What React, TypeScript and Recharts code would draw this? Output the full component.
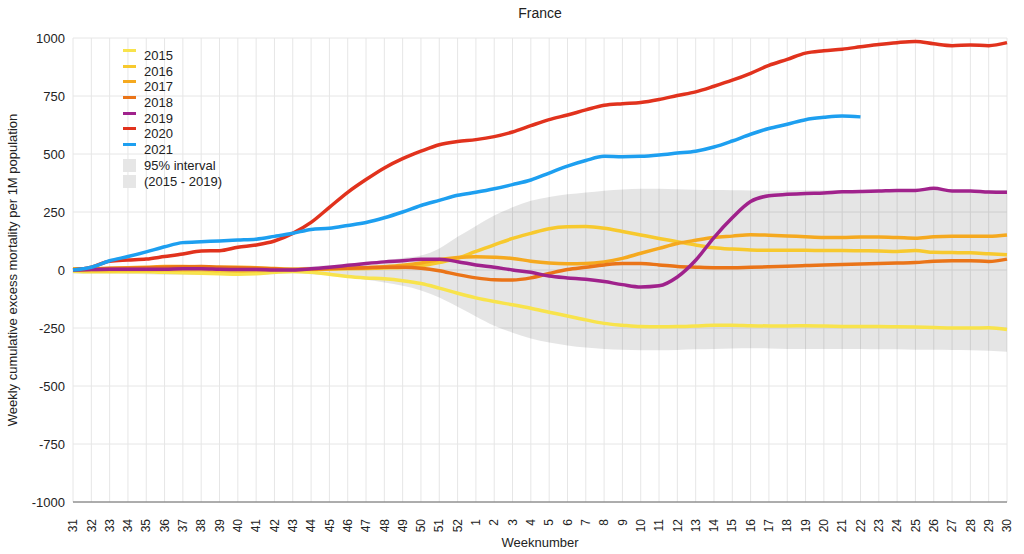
import {
  Area,
  CartesianGrid,
  ComposedChart,
  Legend,
  Line,
  XAxis,
  YAxis,
} from 'recharts';

const weeks = [
  '31', '32', '33', '34', '35', '36', '37', '38', '39', '40', '41', '42', '43', '44', '45', '46',
  '47', '48', '49', '50', '51', '52', '1', '2', '3', '4', '5', '6', '7', '8', '9', '10', '11', '12',
  '13', '14', '15', '16', '17', '18', '19', '20', '21', '22', '23', '24', '25', '26', '27', '28', '29', '30',
];

const y2015 = [
  -5, -8, -8, -8, -8, -10, -12, -14, -16, -18, -16, -10, -6, -10, -18, -28, -34, -38, -46, -58, -78, -100,
  -120, -136, -150, -165, -182, -198, -215, -230, -238, -244, -245, -244, -241, -238, -238, -240, -241, -241,
  -240, -241, -243, -244, -244, -245, -246, -248, -250, -250, -249, -256,
];
const y2016 = [
  0, -3, -3, -2, -2, 0, 0, 0, -3, -5, -3, -2, 0, 2, 3, 5, 7, 9, 11, 18, 32, 50,
  80, 108, 136, 158, 178, 186, 187, 180, 166, 151, 136, 122, 108, 96, 90, 86, 85, 85,
  85, 84, 84, 83, 82, 80, 84, 76, 75, 74, 70, 66,
];
const y2017 = [
  5, 5, 8, 10, 12, 15, 15, 14, 12, 12, 10, 6, 3, 3, 5, 8, 10, 14, 20, 30, 45, 54,
  57, 55, 50, 38, 30, 27, 28, 35, 50, 72, 93, 114, 128, 140, 146, 152, 150, 147,
  143, 140, 140, 142, 142, 140, 137, 143, 145, 145, 145, 151,
];
const y2018 = [
  0, 3, 6, 8, 10, 12, 14, 15, 12, 10, 8, 5, 2, 4, 6, 8, 10, 12, 12, 8, -3, -20,
  -34, -42, -43, -34, -15, 2, 12, 22, 28, 28, 22, 15, 12, 10, 10, 12, 14, 16,
  19, 22, 24, 26, 28, 30, 32, 38, 40, 40, 37, 47,
];
const y2019 = [
  0, 2, 3, 3, 3, 3, 5, 5, 3, 2, 2, 0, 0, 5, 12, 20, 28, 35, 40, 46, 46, 36,
  22, 12, 0, -10, -26, -34, -40, -50, -63, -73, -68, -30, 42, 140, 225, 295, 320, 326,
  330, 332, 337, 338, 340, 343, 343, 352, 341, 341, 336, 335,
];
const y2020 = [
  0, 12, 38, 43, 47, 58, 69, 82, 83, 98, 108, 125, 158, 205, 270, 335, 390, 440, 480, 512, 540, 554,
  562, 575, 595, 622, 648, 668, 690, 710, 717, 722, 735, 752, 768, 792, 818, 848, 882, 908,
  935, 945, 952, 962, 972, 980, 985, 975, 967, 970, 967, 980,
];
const y2021 = [
  0, 12, 40, 58, 78, 100, 118, 122, 125, 129, 133, 145, 158, 175, 180, 192, 205, 225, 250, 278, 300, 322,
  335, 350, 368, 388, 418, 448, 472, 490, 488, 490, 496, 504, 512, 530, 556, 585, 610, 628,
  648, 658, 664, 660, null, null, null, null, null, null, null, null,
];
const bandHigh = [
  12, 14, 15, 16, 18, 20, 20, 20, 18, 18, 16, 14, 12, 15, 20, 26, 34, 42, 52, 62, 93, 143,
  190, 235, 270, 298, 315, 326, 334, 342, 347, 350, 350, 348, 346, 345, 344, 343, 342, 343,
  344, 344, 345, 345, 346, 346, 346, 346, 345, 345, 345, 345,
];
const bandLow = [
  -15, -16, -16, -17, -18, -20, -21, -22, -22, -22, -21, -18, -14, -18, -24, -32, -42, -54, -68, -88, -118, -158,
  -200, -240, -270, -295, -312, -325, -334, -340, -344, -346, -346, -345, -342, -340, -338, -337, -338, -340,
  -340, -340, -340, -340, -342, -342, -344, -344, -345, -346, -348, -352,
];

const yTicks = [-1000, -750, -500, -250, 0, 250, 500, 750, 1000];

const series = [
  { key: 'y2015', name: '2015', color: '#f8e34c' },
  { key: 'y2016', name: '2016', color: '#f7c92e' },
  { key: 'y2017', name: '2017', color: '#f5a91f' },
  { key: 'y2018', name: '2018', color: '#ea7418' },
  { key: 'y2019', name: '2019', color: '#a0228c' },
  { key: 'y2020', name: '2020', color: '#e1321d' },
  { key: 'y2021', name: '2021', color: '#1d9ff0' },
];

const bandLabels = ['95% interval', '(2015 - 2019)'];

const data = weeks.map((week, i) => ({
  week,
  y2015: y2015[i],
  y2016: y2016[i],
  y2017: y2017[i],
  y2018: y2018[i],
  y2019: y2019[i],
  y2020: y2020[i],
  y2021: y2021[i],
  band: [bandLow[i], bandHigh[i]],
}));

const font = '"Liberation Sans", Arial, Helvetica, sans-serif';

function WeekTick(props: any) {
  const { x, y, payload } = props;
  return (
    <text
      transform={`translate(${x},${y + 9}) rotate(-90)`}
      textAnchor="end"
      dy="0.35em"
      fontSize={12}
      fontFamily={font}
      fill="#222"
    >
      {payload.value}
    </text>
  );
}

function ChartLegend() {
  return (
    <div style={{ fontFamily: font, fontSize: 13, color: '#222', lineHeight: '15.7px' }}>
      {series.map((s) => (
        <div key={s.key} style={{ position: 'relative', paddingLeft: 21, height: 15.7 }}>
          <span
            style={{
              position: 'absolute',
              left: 0,
              top: 1,
              width: 13,
              height: 3,
              background: s.color,
            }}
          />
          {s.name}
        </div>
      ))}
      {bandLabels.map((label) => (
        <div key={label} style={{ position: 'relative', paddingLeft: 21, height: 16 }}>
          <span
            style={{
              position: 'absolute',
              left: 0,
              top: 1,
              width: 13,
              height: 13,
              background: '#e6e6e6',
            }}
          />
          {label}
        </div>
      ))}
    </div>
  );
}

export default function App() {
  return (
    <div style={{ position: 'relative', width: 1024, height: 554, background: '#fff' }}>
      <style>{'body{margin:0}'}</style>
      <div
        style={{
          position: 'absolute',
          top: 5,
          left: 0,
          width: 1080,
          textAlign: 'center',
          fontFamily: font,
          fontSize: 14,
          color: '#222',
        }}
      >
        France
      </div>
      <div
        style={{
          position: 'absolute',
          left: 12,
          top: 270,
          transform: 'translate(-50%, -50%) rotate(-90deg)',
          whiteSpace: 'nowrap',
          fontFamily: font,
          fontSize: 13,
          color: '#222',
        }}
      >
        Weekly cumulative excess mortality per 1M population
      </div>
      <div
        style={{
          position: 'absolute',
          top: 535,
          left: 0,
          width: 1080,
          textAlign: 'center',
          fontFamily: font,
          fontSize: 13,
          color: '#222',
        }}
      >
        Weeknumber
      </div>
      <ComposedChart
        width={1024}
        height={554}
        data={data}
        margin={{ top: 38, right: 17, left: 0, bottom: 0 }}
      >
        <CartesianGrid stroke="#e6e6e6" strokeWidth={1} />
        <XAxis
          dataKey="week"
          scale="point"
          interval={0}
          height={52}
          tick={<WeekTick />}
          tickLine={false}
          axisLine={{ stroke: '#666' }}
        />
        <YAxis
          type="number"
          domain={[-1000, 1000]}
          ticks={yTicks}
          width={73}
          axisLine={false}
          tickLine={false}
          tick={{ fontSize: 13, fill: '#222', fontFamily: font }}
        />
        <Legend
          layout="vertical"
          align="center"
          verticalAlign="middle"
          content={<ChartLegend />}
          wrapperStyle={{ left: 123, top: 48, width: 'auto' }}
        />
        <Area
          dataKey="band"
          type="monotone"
          fill="#000"
          fillOpacity={0.1}
          stroke="none"
          isAnimationActive={false}
          legendType="none"
        />
        {series.map((s) => (
          <Line
            key={s.key}
            dataKey={s.key}
            name={s.name}
            type="monotone"
            stroke={s.color}
            strokeWidth={3.5}
            dot={false}
            activeDot={false}
            isAnimationActive={false}
          />
        ))}
      </ComposedChart>
    </div>
  );
}
